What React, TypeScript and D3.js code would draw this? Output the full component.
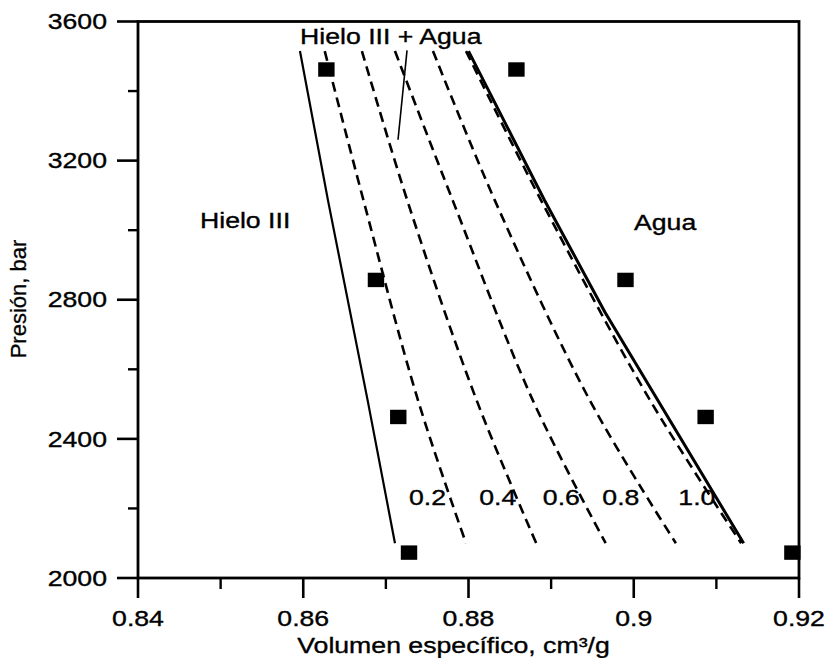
import React from "react";
import * as d3 from "d3";

// ---- data ----
const xMajorTicks = [0.84, 0.86, 0.88, 0.9, 0.92];
const xMajorLabels = ["0.84", "0.86", "0.88", "0.9", "0.92"];
const xMinorTicks = [0.85, 0.87, 0.89, 0.91];
const yMajorTicks = [2000, 2400, 2800, 3200, 3600];
const yMinorTicks = [2200, 2600, 3000, 3400];

// Hielo III boundary (solid, left)
const iceP = [3515, 3085, 2510, 2100];
const iceV = [0.8596, 0.863, 0.8678, 0.8711];

// Agua boundary (solid, right)
const waterP = [3515, 3086, 2765, 2100];
const waterV = [0.88, 0.8892, 0.8965, 0.9133];

// quality lines (dashed)
const qualityP = [3515, 3085, 2510, 2100];
const qualityNames = ["0.2", "0.4", "0.6", "0.8", "1.0"];
const q02 = [0.8626, 0.8673, 0.8739, 0.8797];
const q04 = [0.8671, 0.8726, 0.881, 0.8882];
const q06 = [0.8711, 0.8781, 0.8878, 0.8966];
const q08 = [0.8757, 0.8832, 0.8947, 0.9051];
const q10 = [0.8797, 0.8888, 0.902, 0.913];
const qualityV = [q02, q04, q06, q08, q10];

// experimental squares
const pointP = [3462, 3462, 2857, 2857, 2463, 2463, 2073, 2073];
const pointV = [0.8628, 0.8858, 0.8688, 0.899, 0.8715, 0.9087, 0.8728, 0.9192];

// quality label positions (left edge, baseline)
const qualityLabelV = [0.8728, 0.8813, 0.889, 0.8962, 0.9054];
const qualityLabelP = 2210;

// leader line for "Hielo III + Agua"
const leaderV = [0.87256, 0.87147];
const leaderP = [3517, 3260];

const FONT = "'Liberation Sans', Arial, Helvetica, sans-serif";
const SX = 1.24;
const FS = 21.5;

function T({ x, y, anchor = "start", children, size = FS }: any) {
  return (
    <text
      transform={`translate(${x},${y}) scale(${SX},1)`}
      textAnchor={anchor}
      fontSize={size}
      fontFamily={FONT}
      fill="#000"
      stroke="#000"
      strokeWidth={0.35}
    >
      {children}
    </text>
  );
}

export default function App() {
  const x = d3.scaleLinear().domain([0.84, 0.92]).range([138, 799]);
  const y = d3.scaleLinear().domain([2000, 3600]).range([578, 21.5]);

  const lineSolid = d3
    .line<[number, number]>()
    .x((d) => x(d[0]))
    .y((d) => y(d[1]));
  const lineCurve = d3
    .line<[number, number]>()
    .x((d) => x(d[0]))
    .y((d) => y(d[1]))
    .curve(d3.curveCatmullRom.alpha(0.5));

  const icePts = iceV.map((v, i) => [v, iceP[i]] as [number, number]);
  const waterPts = waterV.map((v, i) => [v, waterP[i]] as [number, number]);

  const left = x(0.84);
  const right = x(0.92);
  const top = y(3600);
  const bottom = y(2000);

  return (
    <svg
      width={829}
      height={658}
      style={{ position: "absolute", left: 0, top: 0, background: "#fff" }}
    >
      <rect x={0} y={0} width={829} height={658} fill="#fff" />
      {/* curves */}
      <path d={lineSolid(icePts) || ""} fill="none" stroke="#000" strokeWidth={2.2} />
      <path d={lineSolid(waterPts) || ""} fill="none" stroke="#000" strokeWidth={3} />
      {qualityV.map((arr, k) => (
        <path
          key={k}
          d={lineCurve(arr.map((v, i) => [v, qualityP[i]] as [number, number])) || ""}
          fill="none"
          stroke="#000"
          strokeWidth={2.6}
          strokeDasharray="10 6"
        />
      ))}
      {/* leader */}
      <line
        x1={x(leaderV[0])}
        y1={y(leaderP[0])}
        x2={x(leaderV[1])}
        y2={y(leaderP[1])}
        stroke="#000"
        strokeWidth={1.6}
      />
      {/* squares */}
      {pointV.map((v, i) => (
        <rect
          key={i}
          x={x(v) - 8.2}
          y={y(pointP[i]) - 7.2}
          width={16.4}
          height={14.4}
          fill="#000"
        />
      ))}
      {/* frame */}
      <rect
        x={left}
        y={top}
        width={right - left}
        height={bottom - top}
        fill="none"
        stroke="#000"
        strokeWidth={2.8}
      />
      {/* x ticks */}
      {xMajorTicks.map((t, i) => (
        <g key={"xm" + i}>
          <line x1={x(t)} x2={x(t)} y1={bottom} y2={bottom + 20} stroke="#000" strokeWidth={2.6} />
          <T x={x(t)} y={bottom + 48} anchor="middle">
            {xMajorLabels[i]}
          </T>
        </g>
      ))}
      {xMinorTicks.map((t, i) => (
        <line key={"xn" + i} x1={x(t)} x2={x(t)} y1={bottom} y2={bottom + 11} stroke="#000" strokeWidth={2.4} />
      ))}
      {/* y ticks */}
      {yMajorTicks.map((t, i) => (
        <g key={"ym" + i}>
          <line x1={left - 21} x2={left} y1={y(t)} y2={y(t)} stroke="#000" strokeWidth={2.6} />
          <T x={left - 31} y={y(t) + 7.7} anchor="end">
            {String(t)}
          </T>
        </g>
      ))}
      {yMinorTicks.map((t, i) => (
        <line key={"yn" + i} x1={left - 10} x2={left} y1={y(t)} y2={y(t)} stroke="#000" strokeWidth={2.4} />
      ))}
      {/* axis titles */}
      <T x={(left + right) / 2 - 15} y={653} anchor="middle">
        Volumen específico, cm³/g
      </T>
      <text
        transform={`translate(26,299) rotate(-90)`}
        textAnchor="middle"
        fontSize={22}
        fontFamily={FONT}
        fill="#000"
        stroke="#000"
        strokeWidth={0.3}
      >
        Presión, bar
      </text>
      {/* annotations */}
      <T x={x(0.85961)} y={y(3536)}>Hielo III + Agua</T>
      <T x={x(0.8475)} y={y(3005)}>Hielo III</T>
      <T x={x(0.90003)} y={y(3000)}>Agua</T>
      {qualityNames.map((n, i) => (
        <T key={n} x={x(qualityLabelV[i])} y={y(qualityLabelP)}>
          {n}
        </T>
      ))}
    </svg>
  );
}
